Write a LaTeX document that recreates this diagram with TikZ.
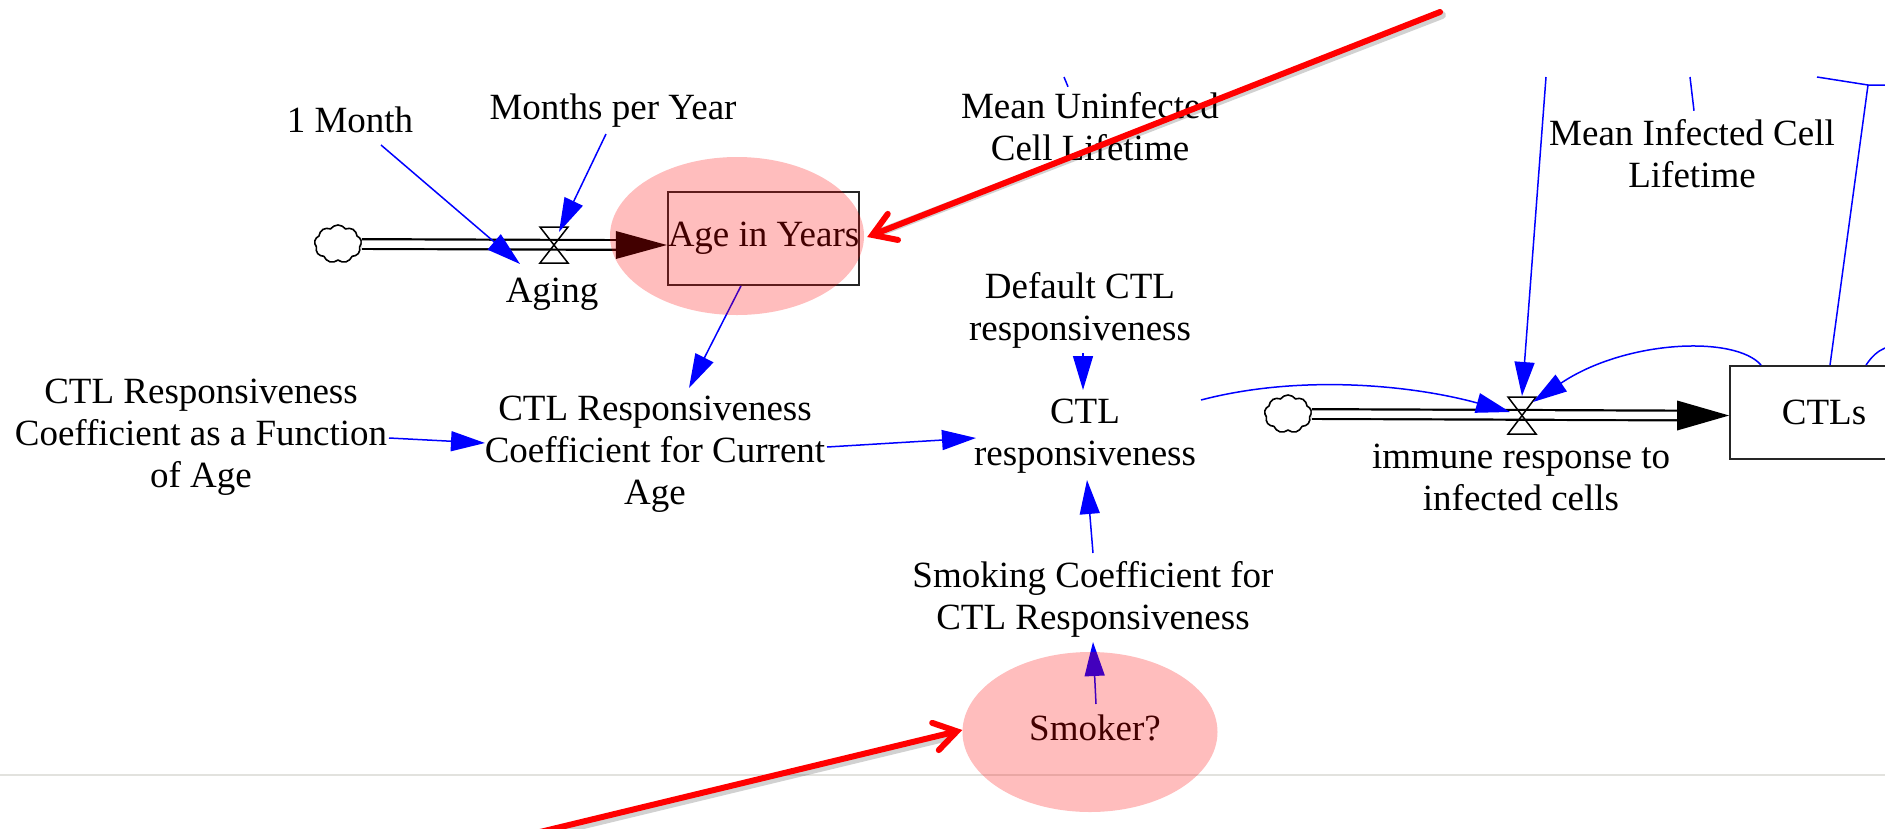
\documentclass[tikz,border=0pt]{standalone}
\usepackage{fontspec}
\setmainfont{Liberation Serif}
\usetikzlibrary{arrows.meta,shapes.symbols,shapes.geometric}

\definecolor{linkblue}{RGB}{0,0,255}
\definecolor{markred}{RGB}{255,0,0}
\definecolor{rulegray}{RGB}{226,226,222}

\begin{document}
\begin{tikzpicture}[x=1pt,y=-1pt,
  lbl/.style={font=\fontsize{37}{42}\selectfont, align=center, inner sep=0pt, anchor=base},
  infl/.style={color=linkblue, line width=1.5pt, -{Triangle[length=34pt,width=20pt]}},
  wire/.style={color=linkblue, line width=1.5pt},
  pipe/.style={draw=black, line width=2.2pt, double=white, double distance=7.5pt},
  valveline/.style={draw=black, line width=1.5pt},
  stock/.style={draw=black!85, line width=1.8pt, rectangle, inner sep=0pt,
                font=\fontsize{37}{42}\selectfont},
  cloudsrc/.style={cloud, cloud puffs=9, cloud puff arc=110, aspect=1.25,
                   draw=black, line width=1.6pt, minimum width=47pt, minimum height=38pt, inner sep=0pt},
  hilite/.style={ellipse, fill=markred, fill opacity=0.26, draw=none, inner sep=0pt},
  redarrow/.style={draw=markred, line width=6pt, line cap=round,
                   -{Straight Barb[length=22pt,width=28pt,line cap=round]}},
  redshadow/.style={draw=black, opacity=0.18, line width=8pt, line cap=round}
]
\useasboundingbox (0,0) rectangle (1885,828);
\fill[white] (0,0) rectangle (1885,828);
\clip (0,0) rectangle (1885,828);

% page rule
\draw[rulegray, line width=1.6pt] (0,775) -- (1885,775);

% ---------- stocks ----------
\node[stock, minimum width=189pt, minimum height=93pt] (agestock) at (763.5,238.5) {Age in Years};
\node[stock, minimum width=188pt, minimum height=93pt] (ctls) at (1824,412.5) {CTLs};

% ---------- Aging flow ----------
\node[cloudsrc] (src1) at (338,244) {};
\coordinate (agv) at (554,245);
\draw[pipe] (src1.east) -- ([shift={(-48,6.5)}]agestock.west);
\fill[black] ([shift={(0,6.5)}]agestock.west) -- ++(-51,-14) -- ++(0,28) -- cycle;
\draw[valveline] (agv) -- ++(-14,-18) -- ++(28,0) -- cycle;
\draw[valveline] (agv) -- ++(-14,18) -- ++(28,0) -- cycle;

% ---------- immune response flow ----------
\node[cloudsrc] (src2) at (1288,414) {};
\coordinate (imv) at (1522,415.5);
\draw[pipe] (src2.east) -- ([shift={(-50,3)}]ctls.west);
\fill[black] ([shift={(0,3)}]ctls.west) -- ++(-52,-15) -- ++(0,30) -- cycle;
\draw[valveline] (imv) -- ++(-14,-18.5) -- ++(28,0) -- cycle;
\draw[valveline] (imv) -- ++(-14,18.5) -- ++(28,0) -- cycle;

% ---------- variables (placed by the baseline of their last line) ----------
\node[lbl] (m1) at (350,132) {1 Month};
\node[lbl] (mpy) at (613,119) {Months per Year};
\node[lbl] (mulife) at (1090,160) {Mean Uninfected\\Cell Lifetime};
\node[lbl] (milife) at (1692,187) {Mean Infected Cell\\Lifetime};
\node[lbl] (aging) at (552,302) {Aging};
\node[lbl] (defctl) at (1080,340) {Default CTL\\responsiveness};
\node[lbl] (ctlresp) at (1085,465) {CTL\\responsiveness};
\node[lbl] (ccur) at (655,504) {CTL Responsiveness\\Coefficient for Current\\Age};
\node[lbl] (cfun) at (201,487) {CTL Responsiveness\\Coefficient as a Function\\of Age};
\node[lbl] (smokc) at (1093,629) {Smoking Coefficient for\\CTL Responsiveness};
\node[lbl] (smoker) at (1095,740) {Smoker?};
\node[lbl] (immune) at (1521,510) {immune response to\\infected cells};

% ---------- links ----------
\draw[infl] ([shift={(31,13)}]m1.base) -- ([shift={(-34,19)}]agv);
\draw[infl] ([shift={(-7,15)}]mpy.base) -- ([shift={(5,-13)}]agv);
\draw[infl] ([shift={(-22.5,0)}]agestock.south) -- ([shift={(34,-116)}]ccur.base);
\draw[infl] ([shift={(188,-49)}]cfun.base) -- ([shift={(-170,-61)}]ccur.base);
\draw[infl] ([shift={(172,-57)}]ccur.base) -- ([shift={(-109,-27)}]ctlresp.base);
\draw[infl] ([shift={(3,13)}]defctl.base) -- ([shift={(-2,-75)}]ctlresp.base);
\draw[infl] ([shift={(0,-76)}]smokc.base) -- ([shift={(2,15)}]ctlresp.base);
\draw[infl] ([shift={(1,-36)}]smoker.base) -- ([shift={(0,13)}]smokc.base);
\draw[infl] ([shift={(116,-65)}]ctlresp.base) .. controls (1300,374) and (1412,385) .. ([shift={(-12,-3.5)}]imv);

\coordinate (topA) at (1546,77);
\draw[infl] (topA) -- ([shift={(0,-19.5)}]imv);
\draw[infl] ([shift={(32,0)}]ctls.north west) .. controls (1735,335) and (1625,340) .. ([shift={(11,-13.5)}]imv);

% links reaching in from beyond the top edge
\coordinate (topB) at (1064,77);
\coordinate (topC) at (1690,77);
\coordinate (topD) at (1817,77);
\coordinate (joinD) at (1868,85);
\coordinate (edgeD) at (1885,85);
\coordinate (edgeE) at (1885,348);
\draw[wire] (topB) -- ([shift={(-22,-5)}]mulife.north);
\draw[wire] (topC) -- ([shift={(2,-8)}]milife.north);
\draw[wire] (topD) -- (joinD) -- (edgeD);
\draw[wire] (joinD) -- ([shift={(6,0)}]ctls.north);
\draw[wire] ([shift={(42,0)}]ctls.north) .. controls (1872,356) and (1878,351) .. (edgeE);

% ---------- highlights ----------
\node[hilite, minimum width=254pt, minimum height=158pt] (ageell) at (737,236) {};
\node[hilite, minimum width=255pt, minimum height=160pt] (smokell) at (1090,732) {};

% ---------- red pointers ----------
\coordinate (ptrA) at (1440,12);
\coordinate (ptrB) at (540,832);
\draw[redshadow] ([shift={(2,3)}]ptrA) -- ([shift={(14,-3)}]ageell.east);
\draw[redshadow] ([shift={(2,3)}]ptrB) -- ([shift={(-14,5)}]smokell.west);
\draw[redarrow] (ptrA) -- ([shift={(3,1)}]ageell.east);
\draw[redarrow] (ptrB) -- ([shift={(0,-2)}]smokell.west);
\end{tikzpicture}
\end{document}
